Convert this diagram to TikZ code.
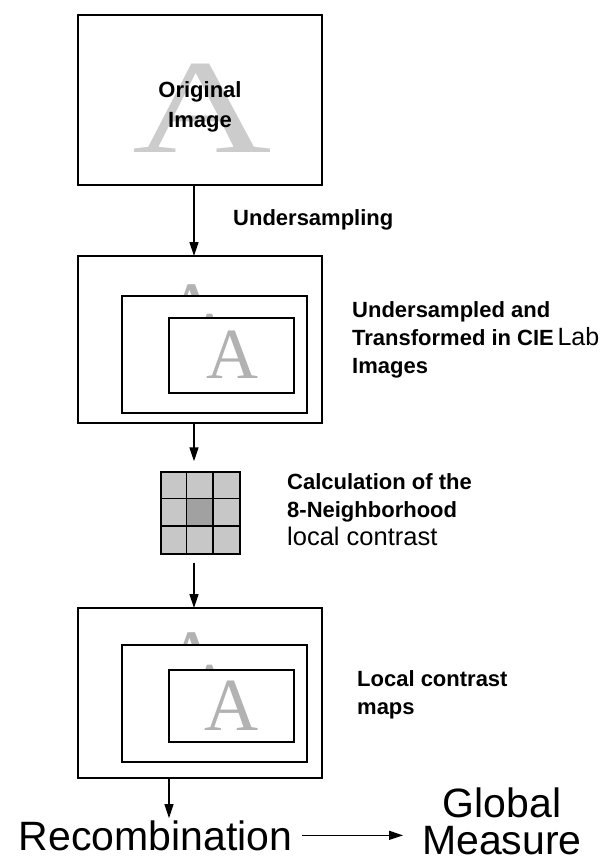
\documentclass[tikz,border=0pt]{standalone}
\usepackage{fontspec}
\setmainfont{Liberation Sans}
\newfontfamily\glyphfont{Liberation Serif}
\usetikzlibrary{arrows.meta}
\tikzset{
  imgbox/.style={draw,line width=1.6pt,fill=white,inner sep=0pt,outer sep=0pt},
  flow/.style={line width=1.4pt,-{Triangle[width=9pt,length=14pt]}},
  lbl/.style={font=\fontsize{22}{28}\selectfont\bfseries,align=left,inner sep=0pt},
  bigA/.style={font=\glyphfont\fontsize{#1}{#1}\selectfont,text=black!30,inner sep=0pt,anchor=base},
}
\begin{document}
\begin{tikzpicture}[x=1pt,y=-1pt]
                \useasboundingbox[fill=white] (0,0) rectangle (614,862);
                %% Original image
                \node[imgbox,minimum width=244pt,minimum height=170pt] (orig) at (200,100) {};
                \node[bigA=134,text=black!20] at (202,152) {\scalebox{1.44}[1]{A}};
                \node[font=\fontsize{22}{30}\selectfont\bfseries,align=center] (origtxt) at (200,107) {Original\\Image};
                %% Undersampled images
                \node[imgbox,minimum width=244pt,minimum height=167pt] (sub) at (200,339.5) {};
                \node[bigA=80] at (192,337) {A};
                \node[imgbox,minimum width=185pt,minimum height=117pt] (submid) at (214.5,354.5) {};
                \node[bigA=55] at (210,350) {A};
                \node[imgbox,minimum width=125pt,minimum height=75pt] (subin) at (231.5,355.5) {};
                \node[bigA=72] at (232,378) {A};
                %% Neighborhood
                \node[draw,line width=1.4pt,fill=black!22,minimum width=79pt,minimum height=82pt,inner sep=0pt] (nbhd) at (200.5,513) {};
                \fill[black!37] ([shift={(26.33pt,-27.33pt)}]nbhd.north west) rectangle ++(26.33,27.33);
                \foreach \k in {1,2} {
                    \draw[line width=1.4pt] ([xshift=\k*26.33pt]nbhd.north west) -- ([xshift=\k*26.33pt]nbhd.south west);
                    \draw[line width=1.4pt] ([yshift=-\k*27.33pt]nbhd.north west) -- ([yshift=-\k*27.33pt]nbhd.north east);
                }
                %% Local contrast maps
                \node[imgbox,minimum width=244pt,minimum height=170pt] (cmap) at (200,693) {};
                \node[bigA=80] at (192,685) {A};
                \node[imgbox,minimum width=185pt,minimum height=117pt] (cmapmid) at (214.5,703.5) {};
                \node[bigA=55] at (210,701) {A};
                \node[imgbox,minimum width=125pt,minimum height=72pt] (cmapin) at (231.5,706) {};
                \node[bigA=75] at (232,730) {A};
                %% Labels
                \node[lbl,anchor=west] (undersamp) at (233,220) {Undersampling};
                \node[lbl,anchor=west] (cielab) at (352,340) {Undersampled and\\Transformed in CIE\,{\mdseries\fontsize{25}{28}\selectfont Lab}\\Images};
                \node[lbl,anchor=west] (calc) at (287,510) {Calculation of the\\8-Neighborhood\\{\mdseries\fontsize{25.5}{28}\selectfont local contrast}};
                \node[lbl,anchor=west] (lcmap) at (357,695) {Local contrast\\maps};
                \node[font=\fontsize{41}{41}\selectfont,inner sep=2pt,anchor=base] (recomb) at (155.5,850) {Recombination};
                \node[font=\fontsize{41}{37}\selectfont,align=center,inner sep=0pt] (glob) at (502,821) {Global\\Measure};
                %% Arrows
                \draw[flow] ([xshift=-6pt]orig.south) -- ([xshift=-6pt]sub.north);
                \draw[flow,shorten >=10pt] ([xshift=-6pt]sub.south) -- ([xshift=-6.5pt]nbhd.north);
                \draw[flow,shorten <=8pt] ([xshift=-6.5pt]nbhd.south) -- ([xshift=-6pt]cmap.north);
                \draw[flow] ([xshift=-31pt]cmap.south) -- ([xshift=13.5pt]recomb.north);
                \draw[flow,shorten <=8pt,shorten >=19pt] (recomb.east) -- (recomb.east -| glob.west);
            \end{tikzpicture}
\end{document}
